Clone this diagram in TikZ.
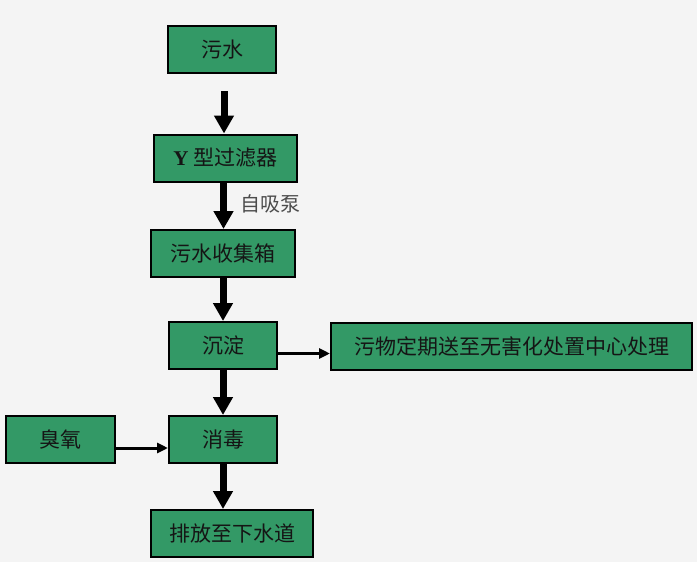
\documentclass[tikz,border=0pt]{standalone}
\usepackage{fontspec}
\setmainfont{Liberation Serif}
\newfontfamily\cjk{Noto Sans CJK SC}
\newfontfamily\latinserif{Liberation Serif}
\usetikzlibrary{arrows.meta}
\definecolor{bg}{HTML}{F4F4F4}
\definecolor{boxgreen}{HTML}{339966}
\definecolor{txt}{HTML}{151515}
\tikzset{
  stepbox/.style={draw=black, line width=2pt, fill=boxgreen, minimum height=47pt, inner sep=0pt,
    font=\cjk\fontsize{21}{23}\selectfont, text=txt},
  bigarrow/.style={line width=7pt, -{Triangle[width=19pt,length=18pt]}},
  thinarrow/.style={line width=3pt, -{Triangle[width=10pt,length=11pt]}},
}
\begin{document}
\begin{tikzpicture}[x=1pt,y=-1pt]
\fill[bg] (0,0) rectangle (697,562);
\useasboundingbox (0,0) rectangle (697,562);

\node[stepbox, minimum width=108pt] (ws) at (222,49.5) {污水};
\node[stepbox, minimum width=143pt] (yf) at (225.5,158) {{\latinserif\bfseries Y}\hspace{5pt}型过滤器};
\node[stepbox, minimum width=144pt] (sj) at (223,253.5) {污水收集箱};
\node[stepbox, minimum width=108pt] (cd) at (223,345.5) {沉淀};
\node[stepbox, minimum width=361pt] (ww) at (511.5,346) {污物定期送至无害化处置中心处理};
\node[stepbox, minimum width=109pt] (cy) at (60.5,439.5) {臭氧};
\node[stepbox, minimum width=108pt] (xd) at (223,439.5) {消毒};
\node[stepbox, minimum width=162pt] (pf) at (232,533.5) {排放至下水道};

\node[anchor=west, text=black!70, font=\cjk\fontsize{20}{22}\selectfont, inner sep=0pt] (zx) at (240,204) {自吸泵};

\draw[bigarrow, shorten <=17pt] ([xshift=2pt]ws.south) -- ([xshift=2pt]ws.south |- yf.north);
\draw[bigarrow] ([xshift=-2pt]yf.south) -- ([xshift=-2pt]yf.south |- sj.north);
\draw[bigarrow] (sj.south) -- (sj.south |- cd.north);
\draw[bigarrow] (cd.south) -- (cd.south |- xd.north);
\draw[bigarrow] (xd.south) -- (xd.south |- pf.north);
\draw[thinarrow] ([yshift=-8pt]cd.east) -- ([yshift=-8pt]cd.east -| ww.west);
\draw[thinarrow] ([yshift=-8.5pt]cy.east) -- ([yshift=-8.5pt]cy.east -| xd.west);
\end{tikzpicture}
\end{document}
